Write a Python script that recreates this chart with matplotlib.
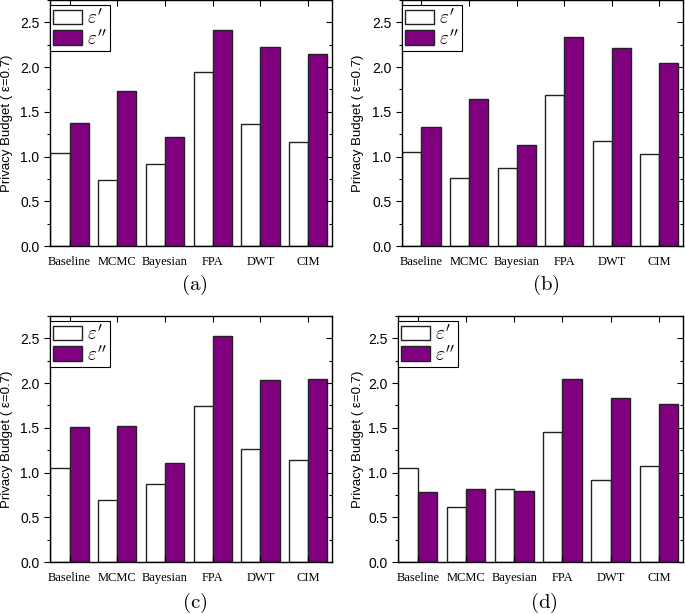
import numpy as np
import matplotlib
matplotlib.use("Agg")
import matplotlib.pyplot as plt
from matplotlib.ticker import MultipleLocator

plt.rcParams['mathtext.fontset'] = 'cm'

methods = ["Baseline", "MCMC", "Bayesian", "FPA", "DWT", "CIM"]
panels = ["(a)", "(b)", "(c)", "(d)"]

eps1_a = [1.045, 0.739, 0.914, 1.944, 1.366, 1.168]
eps2_a = [1.377, 1.728, 1.216, 2.410, 2.228, 2.149]
eps1_b = [1.052, 0.763, 0.872, 1.688, 1.175, 1.025]
eps2_b = [1.325, 1.643, 1.127, 2.335, 2.216, 2.043]
eps1_c = [1.052, 0.698, 0.869, 1.739, 1.261, 1.142]
eps2_c = [1.507, 1.519, 1.112, 2.522, 2.037, 2.049]
eps1_d = [1.056, 0.612, 0.813, 1.455, 0.922, 1.075]
eps2_d = [0.787, 0.813, 0.791, 2.041, 1.828, 1.761]

data = [(eps1_a, eps2_a), (eps1_b, eps2_b), (eps1_c, eps2_c), (eps1_d, eps2_d)]

# axes boxes in pixels: left, right, top, bottom
boxes = [(50, 332, 0, 246), (402, 683, 0, 246),
         (50, 332, 316, 562), (398, 683, 316, 562)]
label_x = [13, 364, 13, 364]
W, H = 685, 614

fig = plt.figure(figsize=(W / 100, H / 100), dpi=100)
x = np.arange(len(methods))
bw = 0.4
purple = "#800080"

for i, (e1, e2) in enumerate(data):
    l, r, t, b = boxes[i]
    ax = fig.add_axes([l / W, 1 - b / H, (r - l) / W, (b - t) / H])
    ax.bar(x - bw / 2, e1, bw, color="white", edgecolor="#222222", linewidth=1.0, label=r"$\varepsilon'$")
    ax.bar(x + bw / 2, e2, bw, color=purple, edgecolor="#222222", linewidth=1.0, label=r"$\varepsilon''$")
    ax.set_xlim(-0.41, 5.5)
    ax.set_ylim(0, 2.75)
    ax.yaxis.set_major_locator(MultipleLocator(0.5))
    ax.yaxis.set_minor_locator(MultipleLocator(0.25))
    ax.set_xticks(x)
    ax.set_xticklabels(methods, fontfamily="Liberation Serif", fontsize=9)
    ax.tick_params(axis="x", direction="in", top=True, length=4, width=0.8, pad=7)
    ax.tick_params(axis="y", which="major", direction="out", length=4, width=0.8, labelsize=10)
    ax.tick_params(axis="y", which="minor", direction="out", length=2, width=0.8)
    ax.tick_params(axis="y", which="both", right=True)
    for lab in ax.get_yticklabels():
        lab.set_fontfamily("Liberation Sans")
    # right ticks point inward
    for tk in ax.yaxis.get_major_ticks() + ax.yaxis.get_minor_ticks():
        tk.tick2line.set_marker(matplotlib.lines.TICKLEFT)
    for s in ax.spines.values():
        s.set_linewidth(1.0)
    ax.set_ylabel("Privacy Budget ( ε=0.7)", fontfamily="Liberation Sans", fontsize=9.5)
    ax.yaxis.set_label_coords((label_x[i] - l) / (r - l), 0.5)
    leg = ax.legend(loc="upper left", bbox_to_anchor=(0.0, 0.98), fontsize=14, handlelength=1.5,
                    handleheight=0.75, handletextpad=0.25, borderpad=0.15, labelspacing=0.05,
                    borderaxespad=0.0, fancybox=False, framealpha=1)
    leg.get_frame().set_edgecolor("black")
    leg.get_frame().set_linewidth(0.8)
    cy = 1 - (285 if i < 2 else 603) / H
    fig.text((l + r) / 2 / W + 0.005, cy, r"$\mathrm{" + panels[i] + "}$", ha="center", va="center", fontsize=15)

fig.savefig("out.png", dpi=100)
